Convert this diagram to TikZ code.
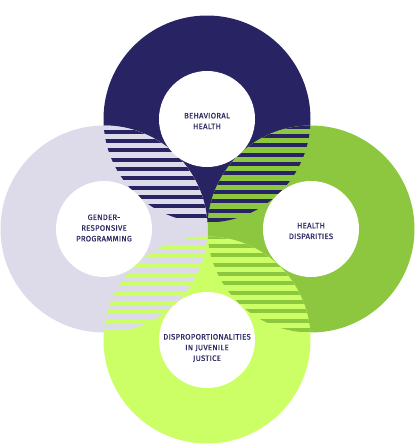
\documentclass[tikz,border=0pt]{standalone}
\usepackage{fontspec}
\setmainfont{Fira Sans}
\newfontfamily\lblfont{Fira Sans}[LetterSpace=3,FakeBold=0.6]
\definecolor{navy}{RGB}{40,36,100}
\definecolor{lav}{RGB}{221,219,233}
\definecolor{grn}{RGB}{141,198,63}
\definecolor{ylw}{RGB}{204,255,102}
\definecolor{txt}{RGB}{45,42,100}
\begin{document}
\begin{tikzpicture}[x=1pt,y=-1pt,
  hole/.style={circle,fill=white,minimum size=96pt,inner sep=0pt},
  lbl/.style={text=txt,align=center,font=\lblfont\fontsize{7.8}{10.7}\selectfont}]
\useasboundingbox (0,0) rectangle (415,445);
\def\R{103.5}
% outer disks
\fill[navy] (207,119) circle[radius=\R];
\fill[lav] (104,229) circle[radius=\R];
\fill[grn] (311,229) circle[radius=\R];
\fill[ylw] (207,340) circle[radius=\R];
% top-left lens
\begin{scope}
\clip (207,119) circle[radius=\R];
\clip (104,229) circle[radius=\R];
\fill[lav] (100,120) rectangle (215,230);
\foreach \k in {-2,...,10}{\fill[navy] (100,139+9.33*\k) rectangle (215,143+9.33*\k);}
\end{scope}
% top-right lens
\begin{scope}
\clip (207,119) circle[radius=\R];
\clip (311,229) circle[radius=\R];
\fill[grn] (200,120) rectangle (315,230);
\foreach \k in {-2,...,10}{\fill[navy] (200,134+9.33*\k) rectangle (315,138+9.33*\k);}
\end{scope}
% bottom-left lens
\begin{scope}
\clip (207,340) circle[radius=\R];
\clip (104,229) circle[radius=\R];
\fill[lav] (100,230) rectangle (215,340);
\foreach \k in {-3,...,10}{\fill[ylw] (100,254+9.33*\k) rectangle (215,258.3+9.33*\k);}
\end{scope}
% bottom-right lens
\begin{scope}
\clip (207,340) circle[radius=\R];
\clip (311,229) circle[radius=\R];
\fill[ylw] (200,230) rectangle (315,340);
\foreach \k in {-3,...,10}{\fill[grn] (200,262.7+9.33*\k) rectangle (315,266.7+9.33*\k);}
\end{scope}
% white holes
\node[hole] (hb) at (207,119) {};
\node[hole] (hg) at (104,229) {};
\node[hole] (hd) at (311,229) {};
\node[hole] (hj) at (207,340) {};
% labels
\node[lbl] (tb) at (207,121) {BEHAVIORAL\\HEALTH};
\node[lbl] (tg) at (104,228) {GENDER-\\RESPONSIVE\\PROGRAMMING};
\node[lbl] (td) at (311,231) {HEALTH\\DISPARITIES};
\node[lbl] (tj) at (207,348) {DISPROPORTIONALITIES\\IN JUVENILE\\JUSTICE};
\end{tikzpicture}
\end{document}
